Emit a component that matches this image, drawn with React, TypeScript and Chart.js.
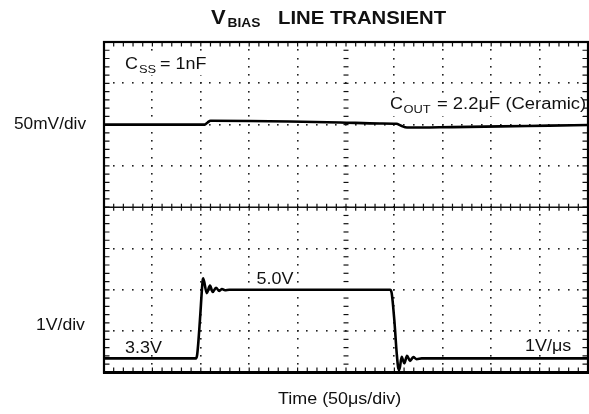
import React, { useEffect, useRef } from "react";
import { Chart, registerables } from "chart.js";

Chart.register(...registerables);

// Time axis: 50 µs/div, 10 divisions
const TIME_MIN = 0;
const TIME_MAX = 500;
// Upper trace (VBIAS, AC coupled): 50 mV/div, 8 divisions
const TOP_MIN = -300;
const TOP_MAX = 100;
// Lower trace (line input): 1 V/div
const BOT_MIN = 3;
const BOT_MAX = 11;

// Upper trace: time (µs) and deviation (mV)
const topTimes = [0, 104, 107, 110, 150, 192, 244, 285, 302, 307, 313, 360, 410, 460, 500];
const topMv = [0, 0, 2.5, 4.6, 4.4, 3.8, 2.6, 1.4, 1.0, -1.5, -3.6, -3.0, -2.2, -1.2, -0.5];

// Lower trace: time (µs) and voltage (V)
const lineTimes = [
  0, 95.0, 96.2, 97.4, 99.2, 102.0, 102.5, 106.1, 109.5, 112.3, 115.7, 119.1, 121.9, 125.0, 129.4,
  295.5, 297.2, 299.9, 302.4, 304.0, 305.1, 307.5, 310.2, 313.0, 316.1, 319.5, 323.0, 328.2, 500,
];
const lineVolts = [
  3.34, 3.34, 3.42, 3.71, 4.3, 5.24, 5.28, 4.92, 5.1, 4.95, 5.05, 4.97, 5.02, 4.99, 5.0,
  5.0, 4.92, 4.27, 3.46, 3.1, 3.06, 3.38, 3.22, 3.4, 3.28, 3.37, 3.32, 3.34, 3.34,
];

const FONT = '"Liberation Sans", Arial, Helvetica, sans-serif';

function drawText(
  ctx: CanvasRenderingContext2D,
  s: string,
  x: number,
  y: number,
  size: number,
  bold = false,
  sx = 1.12
) {
  ctx.save();
  ctx.font = `${bold ? "bold " : ""}${size}px ${FONT}`;
  ctx.fillStyle = "#111";
  ctx.textBaseline = "alphabetic";
  ctx.textAlign = "left";
  ctx.translate(x, y);
  ctx.scale(sx, 1);
  ctx.fillText(s, 0, 0);
  ctx.restore();
}

function clearBox(ctx: CanvasRenderingContext2D, x: number, y: number, w: number, h: number) {
  ctx.save();
  ctx.fillStyle = "#fff";
  ctx.fillRect(x, y, w, h);
  ctx.restore();
}

const gridPlugin = {
  id: "scopeGrid",
  beforeDatasetsDraw(chart: any) {
    const ctx: CanvasRenderingContext2D = chart.ctx;
    const { left: L, right: R, top: T, bottom: B } = chart.chartArea;
    const dx = (R - L) / 10;
    const dy = (B - T) / 8;
    ctx.save();
    ctx.fillStyle = "#222";
    for (let i = 1; i < 10; i++) {
      const x = L + i * dx;
      if (i === 5) continue;
      for (let k = 1; k < 40; k++) {
        const y = T + (k * dy) / 5;
        ctx.fillRect(Math.round(x) - 1, Math.round(y) - 1, 1.6, 1.6);
      }
    }
    for (let j = 1; j < 8; j++) {
      if (j === 4) continue;
      const y = T + j * dy;
      for (let k = 1; k < 50; k++) {
        const x = L + (k * dx) / 5;
        ctx.fillRect(Math.round(x) - 1, Math.round(y) - 1, 1.6, 1.6);
      }
    }
    ctx.strokeStyle = "#111";
    ctx.lineWidth = 1.2;
    const cx = L + 5 * dx;
    for (let k = 1; k < 40; k++) {
      const y = T + (k * dy) / 5;
      ctx.beginPath();
      ctx.moveTo(cx - 2.5, y);
      ctx.lineTo(cx + 2.5, y);
      ctx.stroke();
    }
    const cy = T + 4 * dy;
    ctx.lineWidth = 1.6;
    ctx.beginPath();
    ctx.moveTo(L, cy);
    ctx.lineTo(R, cy);
    ctx.stroke();
    ctx.lineWidth = 1.2;
    for (let k = 1; k < 50; k++) {
      const x = L + (k * dx) / 5;
      ctx.beginPath();
      ctx.moveTo(x, cy - 3.5);
      ctx.lineTo(x, cy + 3.5);
      ctx.stroke();
    }
    for (let k = 1; k < 50; k++) {
      const x = L + (k * dx) / 5;
      ctx.beginPath();
      ctx.moveTo(x, T);
      ctx.lineTo(x, T + 4.5);
      ctx.moveTo(x, B);
      ctx.lineTo(x, B - 5);
      ctx.stroke();
    }
    for (let k = 1; k < 40; k++) {
      const y = T + (k * dy) / 5;
      ctx.beginPath();
      ctx.moveTo(L, y);
      ctx.lineTo(L + 5.5, y);
      ctx.moveTo(R, y);
      ctx.lineTo(R - 5.5, y);
      ctx.stroke();
    }
    ctx.strokeStyle = "#000";
    ctx.lineWidth = 2.2;
    ctx.strokeRect(L, T, R - L, B - T);
    ctx.lineWidth = 3;
    ctx.beginPath();
    ctx.moveTo(L - 1, B);
    ctx.lineTo(R + 1, B);
    ctx.stroke();

    // clear the grid behind in-plot labels
    clearBox(ctx, 123, 54, 88, 21);
    clearBox(ctx, 388, 94, 195, 22);
    clearBox(ctx, 123, 339, 41, 16);
    clearBox(ctx, 523, 337, 50, 17);
    ctx.restore();
  },
};

const textPlugin = {
  id: "scopeText",
  afterDraw(chart: any) {
    const ctx: CanvasRenderingContext2D = chart.ctx;
    // title
    drawText(ctx, "V", 211, 23.5, 20, true, 1.1);
    drawText(ctx, "BIAS", 227.5, 27, 12.5, true, 1.1);
    drawText(ctx, "LINE TRANSIENT", 278, 23.5, 17.5, true, 1.16);
    // annotations
    drawText(ctx, "C", 125, 68.5, 16);
    drawText(ctx, "SS", 139, 72.5, 11.5);
    drawText(ctx, "= 1nF", 160, 68.5, 16);
    drawText(ctx, "C", 390, 108.5, 16);
    drawText(ctx, "OUT", 403.5, 112.5, 11.5);
    drawText(ctx, "= 2.2\u03bcF (Ceramic)", 437, 108.5, 16, false, 1.15);
    drawText(ctx, "5.0V", 256.5, 283.5, 16);
    drawText(ctx, "3.3V", 125, 353, 16);
    drawText(ctx, "1V/\u03bcs", 525, 351, 16);
    // axis-style labels
    drawText(ctx, "50mV/div", 14, 129, 16, false, 1.08);
    drawText(ctx, "1V/div", 36, 330, 16, false, 1.1);
    drawText(ctx, "Time (50\u03bcs/div)", 278, 403.5, 16, false, 1.12);
  },
};

export default function App() {
  const ref = useRef<HTMLCanvasElement | null>(null);
  useEffect(() => {
    const canvas = ref.current;
    if (!canvas) return;
    const chart = new Chart(canvas, {
      type: "line",
      data: {
        datasets: [
          {
            data: topTimes.map((t, i) => ({ x: t, y: topMv[i] })),
            yAxisID: "y",
            borderColor: "#000",
            borderWidth: 2.6,
            pointRadius: 0,
            fill: false,
            cubicInterpolationMode: "monotone",
          },
          {
            data: lineTimes.map((t, i) => ({ x: t, y: lineVolts[i] })),
            yAxisID: "y2",
            borderColor: "#000",
            borderWidth: 2.6,
            pointRadius: 0,
            fill: false,
            cubicInterpolationMode: "monotone",
          },
        ],
      },
      options: {
        animation: false,
        responsive: false,
        devicePixelRatio: 1,
        events: [],
        layout: { padding: { left: 104, top: 42, right: 1, bottom: 41.6 } },
        scales: {
          x: { type: "linear", min: TIME_MIN, max: TIME_MAX, display: false },
          y: { type: "linear", min: TOP_MIN, max: TOP_MAX, display: false },
          y2: { type: "linear", min: BOT_MIN, max: BOT_MAX, display: false },
        },
        plugins: {
          legend: { display: false },
          tooltip: { enabled: false },
          title: { display: false },
        },
      } as any,
      plugins: [gridPlugin, textPlugin],
    });
    return () => chart.destroy();
  }, []);
  return (
    <div style={{ position: "absolute", left: 0, top: 0, width: 589, height: 414, background: "#fff" }}>
      <canvas ref={ref} width={589} height={414} style={{ width: 589, height: 414, display: "block" }} />
    </div>
  );
}
